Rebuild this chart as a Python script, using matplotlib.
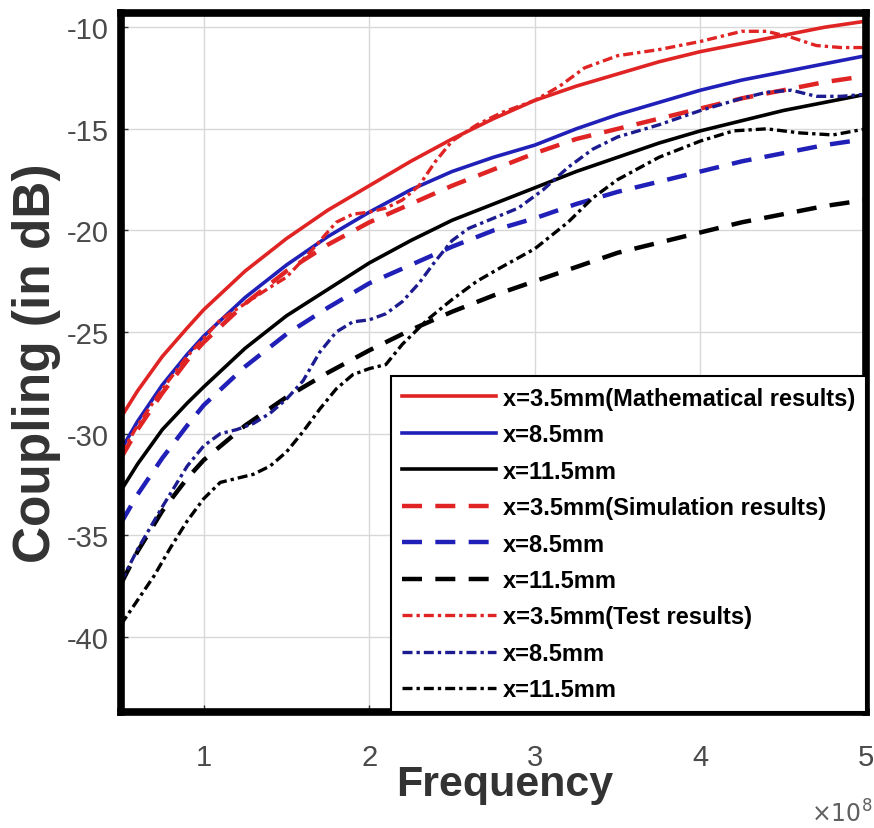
import numpy as np
import matplotlib
matplotlib.use("Agg")
import matplotlib.pyplot as plt
from matplotlib.ticker import FuncFormatter

plt.rcParams['font.family'] = ['Liberation Sans', 'DejaVu Sans']
plt.rcParams['axes.unicode_minus'] = False

# frequency grid (x 1e8 Hz) for the mathematical and simulation curves
freq = np.array([0.5, 0.6, 0.75, 0.9, 1.0, 1.25, 1.5, 1.75, 2.0, 2.25, 2.5,
                 2.75, 3.0, 3.25, 3.5, 3.75, 4.0, 4.25, 4.5, 4.75, 5.0]) * 1e8

math_35 = [-29.2, -27.9, -26.2, -24.8, -23.9, -22.0, -20.4, -19.0, -17.8, -16.6, -15.5,
           -14.5, -13.6, -12.9, -12.3, -11.7, -11.2, -10.8, -10.4, -10.0, -9.7]
math_85 = [-30.8, -29.4, -27.6, -26.1, -25.2, -23.3, -21.7, -20.3, -19.1, -18.0, -17.1,
           -16.4, -15.8, -15.0, -14.3, -13.7, -13.1, -12.6, -12.2, -11.8, -11.4]
math_115 = [-32.8, -31.5, -29.8, -28.5, -27.7, -25.8, -24.2, -22.9, -21.6, -20.5, -19.5,
            -18.7, -17.9, -17.1, -16.4, -15.7, -15.1, -14.6, -14.1, -13.7, -13.3]

sim_35 = [-31.2, -29.8, -28.0, -26.4, -25.5, -23.6, -22.0, -20.7, -19.6, -18.7, -17.8,
          -17.0, -16.2, -15.5, -15.0, -14.5, -14.0, -13.5, -13.1, -12.7, -12.4]
sim_85 = [-34.4, -33.0, -31.2, -29.6, -28.6, -26.7, -25.1, -23.8, -22.6, -21.7, -20.8,
          -20.0, -19.4, -18.7, -18.1, -17.6, -17.1, -16.6, -16.2, -15.8, -15.5]
sim_115 = [-37.4, -35.8, -33.8, -32.2, -31.3, -29.6, -28.2, -27.0, -25.9, -24.9, -24.0,
           -23.2, -22.5, -21.8, -21.1, -20.6, -20.1, -19.6, -19.2, -18.8, -18.5]

# measured (test) curves
test_35_f = np.array([0.5, 0.6, 0.75, 0.9, 1.0, 1.1, 1.25, 1.4, 1.5, 1.65, 1.8, 1.9, 2.0,
                      2.1, 2.2, 2.3, 2.4, 2.5, 2.65, 2.8, 3.0, 3.15, 3.3, 3.5, 3.75, 4.0,
                      4.25, 4.4, 4.55, 4.7, 4.85, 5.0]) * 1e8
test_35 = [-31.0, -29.6, -27.8, -26.2, -25.3, -24.4, -23.6, -22.8, -22.3, -21.0, -19.6,
           -19.2, -19.1, -18.9, -18.5, -17.8, -16.6, -15.6, -14.8, -14.2, -13.6, -12.9,
           -12.0, -11.4, -11.1, -10.7, -10.2, -10.2, -10.5, -10.9, -11.0, -11.0]

test_85_f = np.array([0.5, 0.6, 0.75, 0.9, 1.0, 1.1, 1.2, 1.3, 1.4, 1.5, 1.6, 1.7, 1.8,
                      1.9, 2.0, 2.1, 2.2, 2.3, 2.4, 2.5, 2.6, 2.75, 2.9, 3.05, 3.2, 3.35,
                      3.5, 3.75, 4.0, 4.25, 4.4, 4.55, 4.7, 4.85, 5.0]) * 1e8
test_85 = [-37.3, -35.7, -33.6, -31.6, -30.6, -30.0, -29.8, -29.5, -29.0, -28.3, -27.4,
           -26.0, -25.0, -24.5, -24.4, -24.1, -23.5, -22.6, -21.5, -20.5, -19.9, -19.4,
           -18.9, -18.0, -16.9, -16.0, -15.4, -14.8, -14.1, -13.5, -13.2, -13.1, -13.4,
           -13.4, -13.3]

test_115_f = np.array([0.5, 0.6, 0.7, 0.8, 0.9, 1.0, 1.1, 1.2, 1.3, 1.4, 1.5, 1.6, 1.7,
                       1.8, 1.9, 2.0, 2.1, 2.2, 2.35, 2.5, 2.65, 2.8, 3.0, 3.2, 3.35, 3.5,
                       3.75, 4.0, 4.2, 4.4, 4.6, 4.8, 5.0]) * 1e8
test_115 = [-39.4, -38.2, -37.0, -35.6, -34.3, -33.2, -32.4, -32.2, -32.0, -31.6, -30.9,
            -29.9, -28.8, -27.8, -27.1, -26.8, -26.6, -25.6, -24.4, -23.4, -22.5, -21.8,
            -20.9, -19.6, -18.4, -17.5, -16.4, -15.6, -15.1, -15.0, -15.2, -15.3, -15.0]

red = '#e02424'
blue = '#2020b8'
navy = '#1c1c90'

fig = plt.figure(figsize=(8.74, 8.29), dpi=100)
ax = fig.add_axes([0.1384, 0.1399, 0.8524, 0.8432])

lw_s, lw_d, lw_dd = 2.6, 3.2, 2.4
dash = (4.5, 3.0)
dd = (3.0, 1.2, 1.0, 1.2)

ax.plot(freq, math_35, color=red, lw=lw_s, label='x=3.5mm(Mathematical results)')
ax.plot(freq, math_85, color=blue, lw=lw_s, label='x=8.5mm')
ax.plot(freq, math_115, color='black', lw=lw_s, label='x=11.5mm')
ax.plot(freq, sim_35, color=red, lw=lw_d, dashes=dash, label='x=3.5mm(Simulation results)')
ax.plot(freq, sim_85, color=blue, lw=lw_d, dashes=dash, label='x=8.5mm')
ax.plot(freq, sim_115, color='black', lw=lw_d, dashes=dash, label='x=11.5mm')
ax.plot(test_35_f, test_35, color=red, lw=lw_dd, dashes=dd, label='x=3.5mm(Test results)')
ax.plot(test_85_f, test_85, color=navy, lw=lw_dd, dashes=dd, label='x=8.5mm')
ax.plot(test_115_f, test_115, color='black', lw=lw_dd, dashes=dd, label='x=11.5mm')

ax.set_xlim(0.5e8, 5e8)
ax.set_ylim(-43.7, -9.3)
ax.set_xticks([1e8, 2e8, 3e8, 4e8, 5e8])
ax.set_yticks([-40, -35, -30, -25, -20, -15, -10])
ax.xaxis.set_major_formatter(FuncFormatter(lambda v, p: '%g' % (v / 1e8)))

ax.grid(True, color='#d8d8d8', lw=1.0)
ax.tick_params(direction='in', length=5, width=1, labelsize=21, labelcolor='#4a4a4a',
               color='#333333')
ax.tick_params(axis='x', pad=22)
ax.tick_params(axis='y', pad=9)
for s in ax.spines.values():
    s.set_linewidth(5.5)
    s.set_color('black')

ax.set_xlabel('Frequency', fontsize=31, fontweight='bold', color='#333333')
ax.xaxis.set_label_coords(0.515, -0.074)
ax.set_ylabel('Coupling (in dB)', fontsize=37, fontweight='bold', color='#333333', labelpad=4)
fig.text(0.998, 0.002, r'$\times10^{8}$', fontsize=17, color='#606060', ha='right', va='bottom')

leg = ax.legend(loc='lower right', borderaxespad=0, prop={'weight': 'bold', 'size': 17},
                handlelength=4.0, handletextpad=0.3, labelspacing=0.57, fancybox=False,
                framealpha=1, edgecolor='black', borderpad=0.45)
leg.get_frame().set_linewidth(1.5)

fig.savefig('out.png', dpi=100)
